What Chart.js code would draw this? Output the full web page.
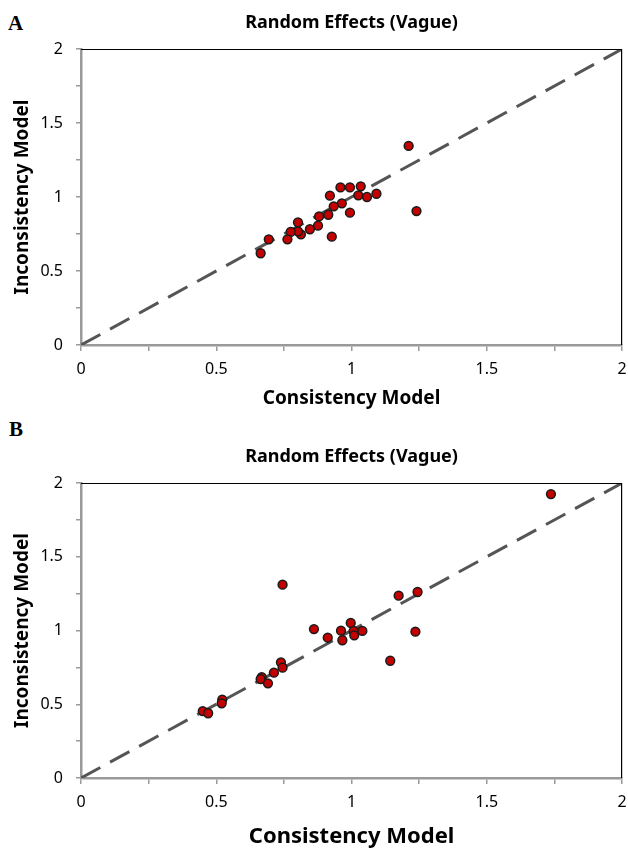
<!DOCTYPE html>
<html>
<head>
<meta charset="utf-8">
<script src="https://cdn.jsdelivr.net/npm/chart.js@4"></script>
<style>
    body { margin: 0; background: #fff; width: 628px; height: 850px; position: relative; overflow: hidden; }
    .panel-label { position: absolute; font-family: "Liberation Serif", serif; font-weight: bold; font-size: 21px; line-height: 1; }
    #wrapA { position: absolute; left: 0; top: 0; width: 628px; height: 420px; }
    #wrapB { position: absolute; left: 0; top: 420px; width: 628px; height: 430px; }
</style>
</head>
<body>
<div class="panel-label" style="left: 8px; top: 13px;">A</div>
<div class="panel-label" style="left: 9px; top: 419px;">B</div>
<div id="wrapA"><canvas id="chartA"></canvas></div>
<div id="wrapB"><canvas id="chartB"></canvas></div>
<script>
// Panel A: random effects (vague), consistency vs inconsistency model
const consistencyA = [1.211, 1.240, 1.092, 1.057, 1.034, 1.025, 0.994, 0.959, 0.994, 0.964, 0.920, 0.934,
    0.914, 0.927, 0.880, 0.876, 0.846, 0.802, 0.813, 0.802, 0.775, 0.763, 0.694, 0.664];
const inconsistencyA = [1.345, 0.905, 1.022, 1.000, 1.072, 1.011, 1.065, 1.065, 0.894, 0.957, 1.009, 0.937,
    0.880, 0.732, 0.869, 0.806, 0.782, 0.829, 0.748, 0.768, 0.764, 0.714, 0.714, 0.620];

// Panel B
const consistencyB = [0.745, 1.174, 1.244, 1.236, 1.143, 0.997, 1.008, 1.010, 1.040, 0.961, 0.966, 0.912,
    0.861, 0.739, 0.745, 0.713, 0.668, 0.664, 0.691, 0.522, 0.520, 0.450, 0.470, 1.737];
const inconsistencyB = [1.311, 1.236, 1.261, 0.992, 0.795, 1.051, 0.997, 0.967, 0.997, 0.999, 0.934, 0.951,
    1.010, 0.784, 0.748, 0.714, 0.683, 0.671, 0.642, 0.531, 0.506, 0.454, 0.439, 1.925];

// line of equality and axis ticks
const identityX = [0, 2];
const identityY = [0, 2];
const axisMin = 0;
const axisMax = 2;
const tickStep = 0.25;
const labelStep = 0.5;

const chartTitle = 'Random Effects (Vague)';
const xTitle = 'Consistency Model';
const yTitle = 'Inconsistency Model';

const FONT = '"Noto Sans", "Open Sans", sans-serif';

// black frame on top and right of the plot area
const frameLines = {
    id: 'frameLines',
    afterDatasetsDraw(chart) {
        const { ctx, chartArea: a } = chart;
        ctx.save();
        ctx.strokeStyle = '#000';
        ctx.lineWidth = 1.2;
        ctx.beginPath();
        ctx.moveTo(a.left, a.top + 0.5);
        ctx.lineTo(a.right - 0.5, a.top + 0.5);
        ctx.lineTo(a.right - 0.5, a.bottom);
        ctx.stroke();
        ctx.restore();
    }
};

function toPoints(xs, ys) {
    return xs.map((x, i) => ({ x: x, y: ys[i] }));
}

function tickLabel(value) {
    return Math.abs(value / labelStep - Math.round(value / labelStep)) < 1e-6 ? String(value) : '';
}

function quarterTicks(scale) {
    scale.ticks = [];
    for (let v = axisMin; v <= axisMax + 1e-9; v += tickStep) scale.ticks.push({ value: +v.toFixed(2) });
}

function makeChart(canvasId, xs, ys, opts) {
    const ctx = document.getElementById(canvasId).getContext('2d');
    return new Chart(ctx, {
        type: 'scatter',
        data: {
            datasets: [
                {
                    label: 'Comparisons',
                    data: toPoints(xs, ys),
                    backgroundColor: '#c40000',
                    borderColor: '#1a1a1a',
                    borderWidth: 1.5,
                    pointRadius: 4.4,
                    order: 0
                },
                {
                    label: 'Line of equality',
                    data: toPoints(identityX, identityY),
                    type: 'line',
                    showLine: true,
                    borderColor: '#555555',
                    borderWidth: 3,
                    borderDash: [22, 11.1],
                    pointRadius: 0,
                    fill: false,
                    order: 1
                }
            ]
        },
        options: {
            responsive: true,
            maintainAspectRatio: false,
            animation: false,
            layout: { padding: { left: 0, right: 4, top: 0, bottom: 0 } },
            plugins: {
                legend: { display: false },
                tooltip: { enabled: false },
                title: { display: false }
            },
            scales: {
                // top axis only carries the chart title, centred over the plot area
                top: {
                    type: 'linear',
                    position: 'top',
                    min: axisMin,
                    max: axisMax,
                    afterFit: (scale) => { scale.height = opts.topHeight; scale.paddingLeft = 0; scale.paddingRight = 0; },
                    ticks: { display: false },
                    grid: { display: false, drawTicks: false },
                    border: { display: false },
                    title: {
                        display: true,
                        text: chartTitle,
                        color: '#000',
                        font: { family: FONT, size: 18, weight: 'bold' },
                        padding: { top: opts.titleTop, bottom: 0 }
                    }
                },
                x: {
                    type: 'linear',
                    min: axisMin,
                    max: axisMax,
                    afterFit: (scale) => { scale.height = opts.xHeight; scale.paddingLeft = 0; scale.paddingRight = 0; },
                    afterBuildTicks: quarterTicks,
                    ticks: {
                        autoSkip: false,
                        maxRotation: 0,
                        padding: opts.xTickPad,
                        color: '#000',
                        font: { family: FONT, size: 16 },
                        callback: tickLabel
                    },
                    grid: { drawOnChartArea: false, drawTicks: true, tickLength: 6, color: '#9a9a9a', lineWidth: 1.5 },
                    border: { display: true, color: '#9a9a9a', width: 2.5 },
                    title: {
                        display: true,
                        text: xTitle,
                        color: '#000',
                        font: { family: FONT, size: opts.xTitleSize, weight: 'bold' },
                        padding: { top: 0, bottom: opts.xTitlePad }
                    }
                },
                y: {
                    type: 'linear',
                    min: axisMin,
                    max: axisMax,
                    afterFit: (scale) => { scale.width = 81; scale.paddingTop = 0; scale.paddingBottom = 0; },
                    afterBuildTicks: quarterTicks,
                    ticks: {
                        autoSkip: false,
                        padding: 13,
                        color: '#000',
                        font: { family: FONT, size: 16 },
                        callback: tickLabel
                    },
                    grid: { drawOnChartArea: false, drawTicks: true, tickLength: 5, color: '#9a9a9a', lineWidth: 1.5 },
                    border: { display: true, color: '#9a9a9a', width: 2.5 },
                    title: {
                        display: true,
                        text: yTitle,
                        color: '#000',
                        font: { family: FONT, size: 19, weight: 'bold' },
                        padding: { top: 11, bottom: 0 }
                    }
                }
            }
        },
        plugins: [frameLines]
    });
}

makeChart('chartA', consistencyA, inconsistencyA, {
    topHeight: 49,
    titleTop: 12,
    xHeight: 75,
    xTickPad: 9,
    xTitleSize: 19,
    xTitlePad: 10
});

makeChart('chartB', consistencyB, inconsistencyB, {
    topHeight: 63,
    titleTop: 26,
    xHeight: 72,
    xTickPad: 9,
    xTitleSize: 22,
    xTitlePad: 0
});
</script>
</body>
</html>
